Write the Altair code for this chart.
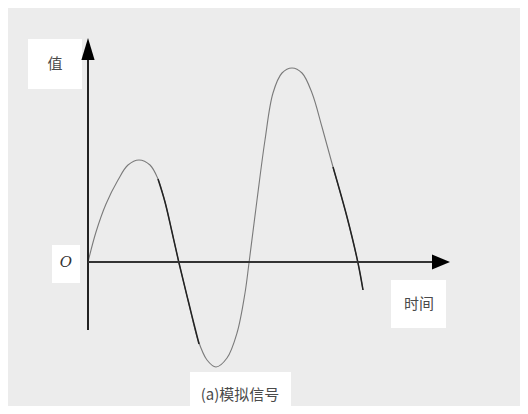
import altair as alt
import pandas as pd

# Signal curve (t = time, v = value; arbitrary units)
t_vals = [0, 8, 18, 30, 40, 51, 62, 70, 77, 84, 91, 100, 110, 119, 128, 139, 149, 157, 161,
          169, 177, 185, 194, 204, 214, 224, 234, 245, 259, 270, 275]
v_vals = [0, 30, 58, 82, 97, 102, 97, 83, 60, 30, -1, -38, -78, -98, -105, -96, -71, -31, -1,
          62, 122, 169, 189, 194, 189, 169, 135, 95, 45, -1, -28]
# darker (thicker) stretches of the trace
dark1_t = [70, 77, 84, 91, 100, 110, 111]
dark1_v = [83, 60, 30, -1, -38, -78, -82]
dark2_t = [245, 259, 270, 275]
dark2_v = [95, 45, -1, -28]

# axes
yaxis_lo, yaxis_hi = -68, 205
xaxis_hi = 347

labels = ["值", "O", "时间", "(a)模拟信号"]
label_t = [-33, -22, 331, 152]
label_v = [198, 0, -42, -133]
box_t1 = [-60, -36, 303, 102]
box_t2 = [-6, -8, 358, 203]
box_v1 = [173, -21, -66, -152]
box_v2 = [223, 17, -18, -110]

W, H = 512, 398
xs = alt.Scale(domain=[-80, 432], range=[0, W], nice=False, zero=False)
ys = alt.Scale(domain=[-144, 254], range=[H, 0], nice=False, zero=False)
X = lambda f: alt.X(f, type="quantitative", scale=xs, axis=None)
Y = lambda f: alt.Y(f, type="quantitative", scale=ys, axis=None)

curve = pd.DataFrame({"t": t_vals, "v": v_vals})
d1 = pd.DataFrame({"t": dark1_t, "v": dark1_v})
d2 = pd.DataFrame({"t": dark2_t, "v": dark2_v})
boxes = pd.DataFrame({"t1": box_t1, "t2": box_t2, "v1": box_v1, "v2": box_v2})
lab = pd.DataFrame({"label": labels, "t": label_t, "v": label_v})

box_layer = alt.Chart(boxes).mark_rect(color="#ffffff").encode(
    x=X("t1"), x2="t2", y=Y("v1"), y2="v2")

yaxis = alt.Chart(pd.DataFrame({"t": [0], "v1": [yaxis_lo], "v2": [yaxis_hi]})).mark_rule(
    color="#222222", strokeWidth=2).encode(x=X("t"), y=Y("v1"), y2="v2")
xaxis = alt.Chart(pd.DataFrame({"v": [0], "t1": [0], "t2": [xaxis_hi]})).mark_rule(
    color="#333333", strokeWidth=2).encode(y=Y("v"), x=X("t1"), x2="t2")

arrow_up = alt.Chart(pd.DataFrame({"t": [0], "v": [213]})).mark_point(
    shape="M0,-1L0.6,1L-0.6,1Z", size=484, filled=True, color="#000000", opacity=1,
    strokeWidth=0).encode(x=X("t"), y=Y("v"))
arrow_right = alt.Chart(pd.DataFrame({"t": [353], "v": [0]})).mark_point(
    shape="M1,0L-1,-0.83L-1,0.83Z", size=324, filled=True, color="#000000", opacity=1,
    strokeWidth=0).encode(x=X("t"), y=Y("v"))

line = alt.Chart(curve).mark_line(color="#7a7a7a", strokeWidth=1.1, interpolate="catmull-rom").encode(
    x=X("t"), y=Y("v"), order="t:Q")
dk1 = alt.Chart(d1).mark_line(color="#222222", strokeWidth=1.5, interpolate="catmull-rom").encode(
    x=X("t"), y=Y("v"), order="t:Q")
dk2 = alt.Chart(d2).mark_line(color="#222222", strokeWidth=1.5, interpolate="catmull-rom").encode(
    x=X("t"), y=Y("v"), order="t:Q")

txt_cjk = alt.Chart(lab[lab["label"] != "O"]).mark_text(
    font="Noto Sans CJK SC", fontSize=15, color="#4a4a4a", baseline="middle", align="center"
).encode(x=X("t"), y=Y("v"), text="label:N")
txt_o = alt.Chart(lab[lab["label"] == "O"]).mark_text(
    font="DejaVu Serif", fontStyle="italic", fontSize=15, color="#333333",
    baseline="middle", align="center"
).encode(x=X("t"), y=Y("v"), text="label:N")

chart = alt.layer(box_layer, line, dk1, dk2, yaxis, xaxis, arrow_up, arrow_right,
                  txt_cjk, txt_o).properties(
    width=W, height=H, background="#ececec", padding=0,
    autosize=alt.AutoSizeParams(type="none")
).configure_view(stroke=None)

chart.save("out.html", embed_options={"renderer": "svg", "actions": False})
